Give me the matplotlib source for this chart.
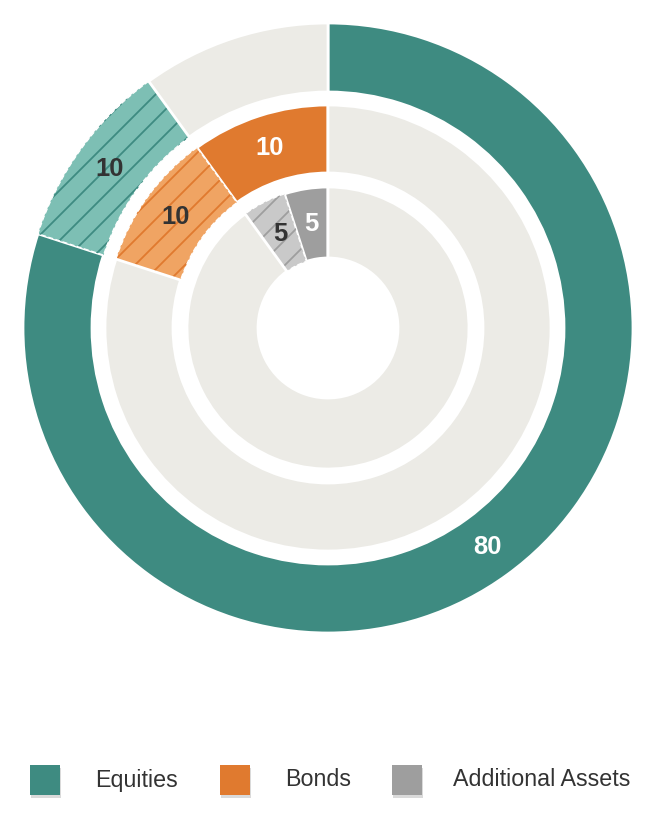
import matplotlib
matplotlib.use("Agg")
import matplotlib.pyplot as plt
from matplotlib.patches import Wedge, Rectangle
import matplotlib.patheffects as pe
import numpy as np

categories = ["Equities", "Bonds", "Additional Assets"]
solid_values = [80, 10, 5]
hatched_values = [10, 10, 5]
total = 100
clockwise = [True, False, False]

solid_colors = ["#3E8B81", "#E07A2F", "#9E9E9E"]
hatch_fill = ["#7DBFB4", "#F0A463", "#C9C9C9"]
bg_color = "#ECEBE6"

DPI = 150
k = 100 / DPI  # convert "points at 100 dpi" to points at DPI

plt.rcParams["font.family"] = ["Liberation Sans", "DejaVu Sans"]
plt.rcParams["hatch.linewidth"] = 1.3 * k

W, H = 655, 820
fig = plt.figure(figsize=(W / DPI, H / DPI), dpi=DPI)
cx, cy, R = 328, 328, 305
ax = fig.add_axes([(cx - R) / W, (H - cy - R) / H, 2 * R / W, 2 * R / H])

radii = [1.0, 223 / 305, 141 / 305]
widths = [69 / 305, 68 / 305, 71 / 305]

for i in range(3):
    rest = total - solid_values[i] - hatched_values[i]
    vals = [solid_values[i], hatched_values[i], rest]
    cols = [solid_colors[i], hatch_fill[i], bg_color]
    wedges, _ = ax.pie(vals, radius=radii[i], startangle=90,
                       counterclock=not clockwise[i], colors=cols,
                       wedgeprops=dict(width=widths[i], edgecolor="white", linewidth=2 * k))
    hw = wedges[1]
    hw.set_edgecolor(solid_colors[i])
    hw.set_linewidth(0)
    hw.set_hatch("//")
    border = Wedge(hw.center, hw.r, hw.theta1, hw.theta2, width=hw.width,
                   facecolor="none", edgecolor="white", linewidth=0.9 * k,
                   linestyle=(0, (4, 2)), zorder=hw.get_zorder() + 0.1)
    ax.add_patch(border)
    rmid = radii[i] - widths[i] / 2
    for w, v, tc in [(wedges[0], solid_values[i], "white"), (hw, hatched_values[i], "#333333")]:
        ang = np.deg2rad((w.theta1 + w.theta2) / 2)
        ax.text(rmid * np.cos(ang), rmid * np.sin(ang), str(v), ha="center", va="center",
                fontsize=18.5 * k, fontweight="bold", color=tc)

ax.set_xlim(-1, 1)
ax.set_ylim(-1, 1)
ax.set_aspect("equal")
ax.axis("off")

# legend
patch_x = [30, 220, 392]
text_x = [95, 285, 453]
ly = 780
s = 30
for i, cat in enumerate(categories):
    r = Rectangle((patch_x[i] / W, (H - ly - s / 2) / H), s / W, s / H,
                  transform=fig.transFigure, facecolor=solid_colors[i], edgecolor="none",
                  path_effects=[pe.SimplePatchShadow(offset=(1 * k, -2 * k), alpha=0.18,
                                                     shadow_rgbFace="#333333"), pe.Normal()])
    fig.add_artist(r)
    fig.text(text_x[i] / W, (H - ly) / H, cat, ha="left", va="center",
             fontsize=16.8 * k, color="#333333")

fig.savefig("out.png", dpi=DPI)
